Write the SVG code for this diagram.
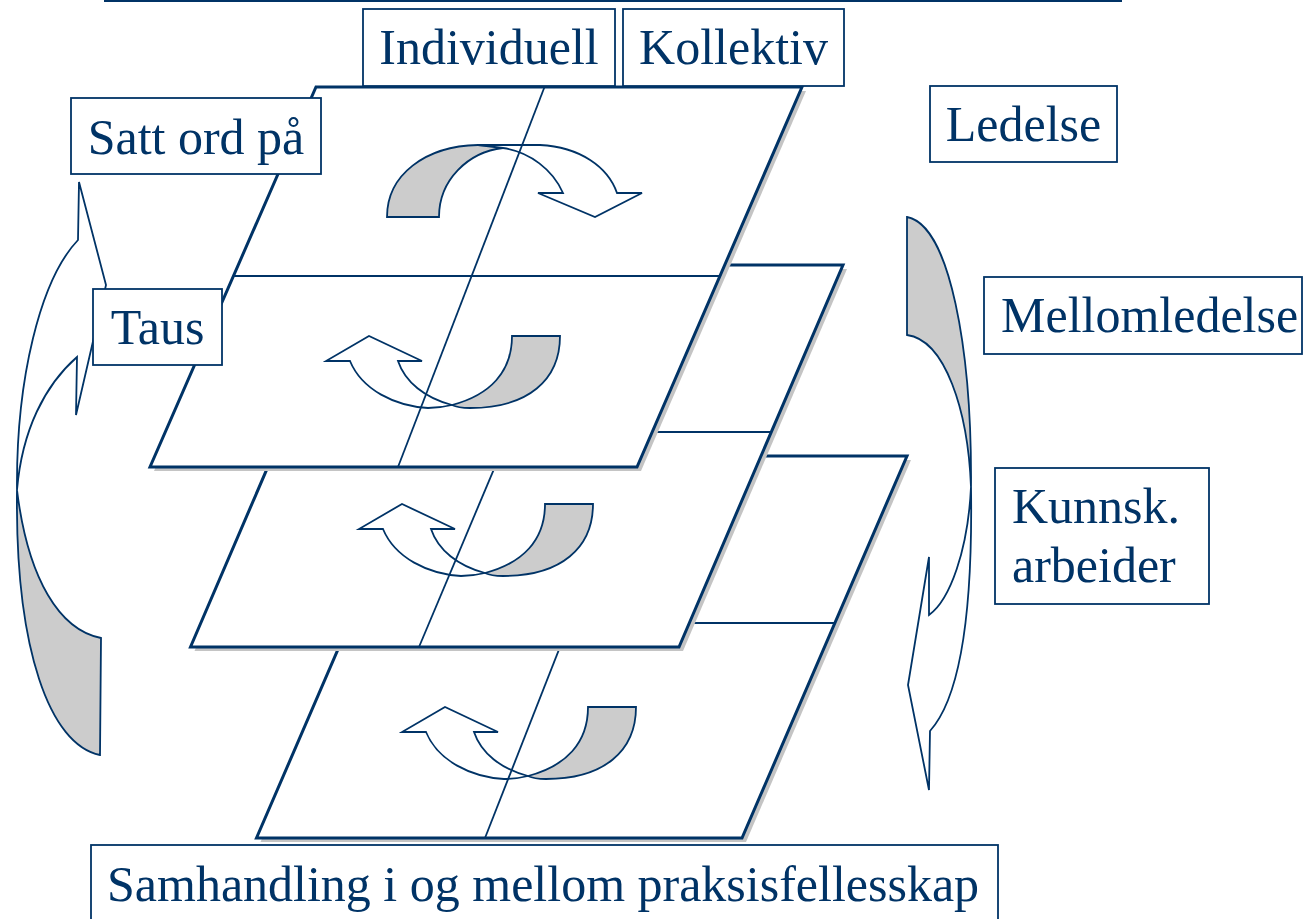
<svg xmlns="http://www.w3.org/2000/svg" width="1303" height="919" viewBox="0 0 1303 919">
<style>
.plane{fill:#ffffff;stroke:#003366;stroke-width:3;stroke-linejoin:miter}
.shadow{fill:#c4c4c4;stroke:none}
.thin{stroke:#003366;stroke-width:1.8;fill:none}
.gray{fill:#cccccc;stroke:#003366;stroke-width:1.8;stroke-linejoin:miter}
.white{fill:#ffffff;stroke:#003366;stroke-width:1.8;stroke-linejoin:miter}
.box{fill:#ffffff;stroke:#003366;stroke-width:1.8}
.lbl{font-family:"Liberation Serif","Times New Roman",serif;font-size:50px;fill:#003366}
</style>
<defs>
<g id="uarrow">
<path class="gray" d="M512,336 L560,336 C560,380 528,408 470,408 C462,408 456,407 452,405 C490,395 512,372 512,336 Z"/>
<path class="white" d="M452,405 C440,408 435,408 428,408 C395,406 362,390 350,361 L326,361 L369,336 L422,361 L398,361 C405,382 425,398 452,405 Z"/>
</g>
</defs>
<line x1="104" y1="1" x2="1122" y2="1" stroke="#003366" stroke-width="2"/>

<g id="plane3">
<polygon class="shadow" points="425.5,460 911,460 746,842 260.5,842"/>
<polygon class="plane" points="421.5,456 907,456 742,838 256.5,838"/>
<use href="#uarrow" transform="translate(76,371)"/>
<line class="thin" x1="349.4" y1="623" x2="835" y2="623"/>
<line class="thin" x1="635" y1="456" x2="485" y2="838"/>
</g>
<g id="plane2">
<polygon class="shadow" points="358.5,269 847,269 683,651 194.5,651"/>
<polygon class="plane" points="354.5,265 843,265 679,647 190.5,647"/>
<use href="#uarrow" transform="translate(33,168)"/>
<line class="thin" x1="282.7" y1="432" x2="771" y2="432"/>
<line class="thin" x1="580" y1="265" x2="419" y2="647"/>
</g>
<g id="plane1">
<polygon class="shadow" points="320,91 806,91 641,471 154,471"/>
<polygon class="plane" points="316,87 802,87 637,467 150,467"/>
<g id="arrow-top">
<path class="gray" d="M387,217 C387,175 425,146 478,145 C488,145 496,146 503,148 C468,152 439,180 439,217 Z"/>
<path class="white" d="M478,145 L540,145 C580,147 608,167 617,193 L642,193 L595,217 L538,193 L563,193 C553,170 530,152 503,148 Z"/>
</g>
<use href="#uarrow"/>
<line class="thin" x1="233.7" y1="276" x2="719.7" y2="276"/>
<line class="thin" x1="544.5" y1="87" x2="398" y2="467"/>
</g>

<g id="left-arrow">
<path class="gray" d="M17,490 C15,650 50,745 100,755 L101,638 C60,630 28,580 17,490 Z"/>
<path class="white" d="M17,490 C16,380 40,280 78,240 L79,182 L106,285 L76,415 L77,357 C45,385 22,430 17,490 Z"/>
</g>
<g id="right-arrow">
<path class="gray" d="M907,217 C950,225 972,350 971,487 C968,410 945,340 907,335 Z"/>
<path class="white" d="M971,487 C973,620 958,700 930,731 L929,790 L908,685 L929,557 L929,615 C950,600 968,550 971,487 Z"/>
</g>

<g id="box-individuell"><rect class="box" x="363" y="9" width="252" height="77"/><text class="lbl" x="489" y="64" text-anchor="middle">Individuell</text></g>
<g id="box-kollektiv"><rect class="box" x="623" y="9" width="221" height="77"/><text class="lbl" x="733.5" y="64" text-anchor="middle">Kollektiv</text></g>
<g id="box-satt"><rect class="box" x="71" y="98" width="250" height="76"/><text class="lbl" x="196" y="154" text-anchor="middle">Satt ord på</text></g>
<g id="box-ledelse"><rect class="box" x="930" y="86" width="187" height="76"/><text class="lbl" x="1023.5" y="141" text-anchor="middle">Ledelse</text></g>
<g id="box-taus"><rect class="box" x="93" y="289" width="129" height="76"/><text class="lbl" x="157.5" y="344" text-anchor="middle">Taus</text></g>
<g id="box-mellom"><rect class="box" x="984" y="277" width="318" height="77"/><text class="lbl" x="1001" y="332">Mellomledelse</text></g>
<g id="box-kunnsk"><rect class="box" x="995" y="468" width="214" height="136"/><text class="lbl" x="1012" y="523">Kunnsk.</text><text class="lbl" x="1012" y="582">arbeider</text></g>
<g id="box-samhandling"><rect class="box" x="91" y="845" width="907" height="80"/><text class="lbl" x="107" y="901">Samhandling i og mellom praksisfellesskap</text></g>
</svg>
